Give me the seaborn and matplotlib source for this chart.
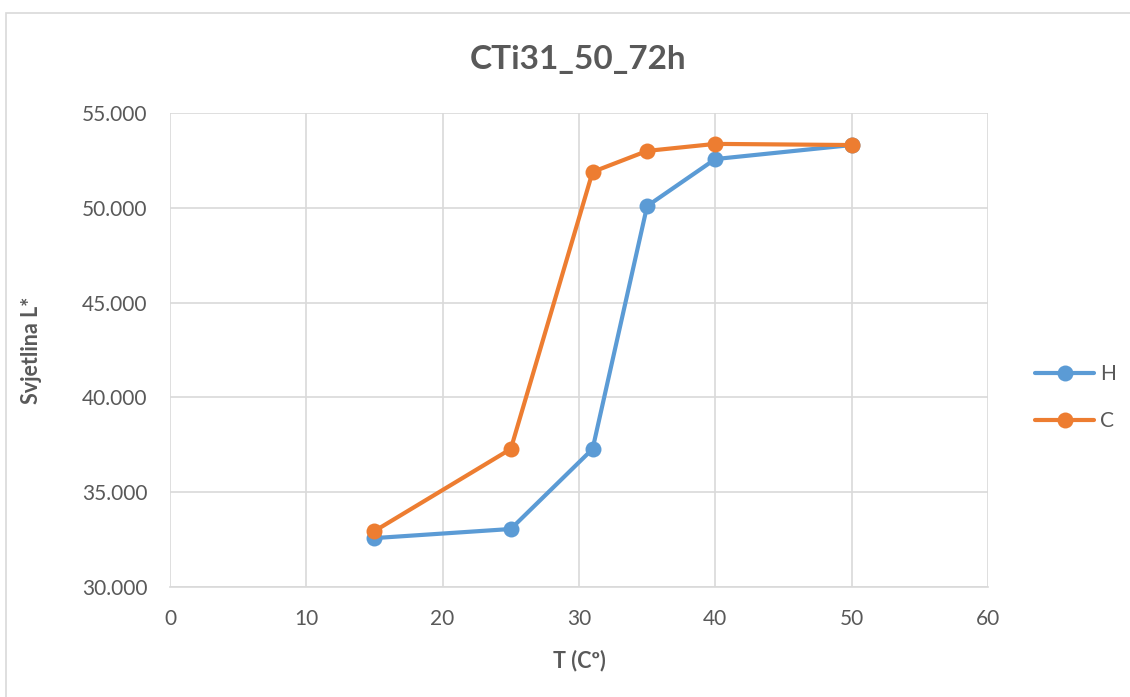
import pandas as pd
import matplotlib.pyplot as plt
import seaborn as sns
from matplotlib.patches import Rectangle

temps = [15, 25, 31, 35, 40, 50]
h_vals = [32.58, 33.06, 37.28, 50.09, 52.57, 53.31]
c_vals = [32.95, 37.28, 51.89, 53.00, 53.37, 53.31]
series = ["H", "C"]

df = pd.DataFrame({
    "T": temps * 2,
    "L": h_vals + c_vals,
    "serija": [series[0]] * len(temps) + [series[1]] * len(temps),
})

sns.set_style("white")
plt.rcParams["font.family"] = ["Lato", "DejaVu Sans"]
text_col = "#595959"

fig = plt.figure(figsize=(11.3, 6.97), dpi=100)
ax = fig.add_axes([0.1504, 0.1578, 0.7239, 0.6801])

# outer chart border
fig.patches.append(Rectangle((6 / 1130, -0.1), 1.1, 1.1 - 13 / 697, transform=fig.transFigure,
                             fill=False, edgecolor="#D9D9D9", linewidth=1.2))

sns.lineplot(data=df, x="T", y="L", hue="serija", hue_order=series,
             palette=["#5B9BD5", "#ED7D31"], marker="o", markersize=11.5,
             markeredgewidth=0, linewidth=3, ax=ax, sort=False)

ax.set_xlim(0, 60)
ax.set_ylim(30, 55)
ax.set_xticks(range(0, 61, 10))
ax.set_yticks(range(30, 56, 5))
ax.set_yticklabels([f"{v:.3f}" for v in range(30, 56, 5)])
ax.grid(True, color="#D9D9D9", linewidth=1.2)
ax.set_axisbelow(True)
for side in ["top", "right", "left"]:
    ax.spines[side].set_visible(False)
ax.spines["bottom"].set_color("#D9D9D9")
ax.spines["bottom"].set_linewidth(1.2)
ax.tick_params(axis="both", length=0, labelsize=15, labelcolor=text_col, pad=16)

ax.set_xlabel("T (Cº)", fontsize=15.5, fontweight="bold", color=text_col)
ax.set_ylabel("Svjetlina L*", fontsize=15.5, fontweight="bold", color=text_col)
ax.xaxis.set_label_coords(0.5, -0.133)
ax.yaxis.set_label_coords(-0.156, 0.5)
fig.text(0.512, 1 - 60 / 697, "CTi31_50_72h", ha="center", va="center",
         fontsize=24, fontweight="bold", color=text_col)

ax.legend(title=None, frameon=False, loc="center left", bbox_to_anchor=(1.035, 0.40),
          fontsize=15, labelcolor=text_col, handlelength=2.8, labelspacing=1.3,
          handletextpad=0.3)

fig.savefig("out.png", dpi=100, facecolor="white")
